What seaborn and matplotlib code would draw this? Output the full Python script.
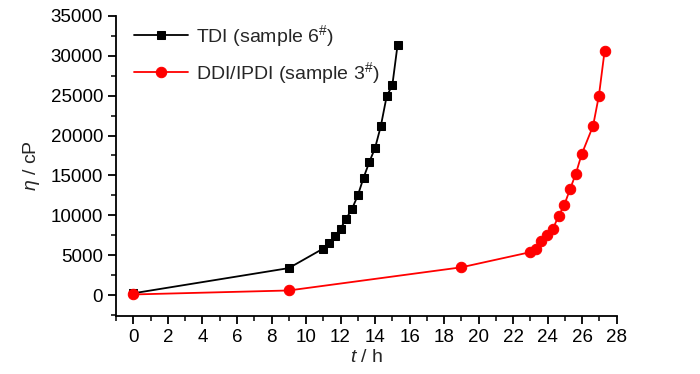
import matplotlib
matplotlib.use('Agg')
import matplotlib.pyplot as plt
from matplotlib.ticker import MultipleLocator
import seaborn as sns

sns.set_style('ticks')
plt.rcParams['font.family'] = ['Liberation Sans', 'DejaVu Sans']
plt.rcParams['mathtext.fontset'] = 'custom'
plt.rcParams['mathtext.rm'] = 'Liberation Sans'
plt.rcParams['mathtext.it'] = 'Liberation Sans:italic'

# TDI (sample 6#)
tdi_t = [0, 9, 11, 11.33, 11.67, 12, 12.33, 12.67, 13, 13.33, 13.67, 14, 14.33, 14.67, 15, 15.3]
tdi_eta = [250, 3400, 5850, 6600, 7400, 8350, 9600, 10850, 12500, 14700, 16700, 18450, 21150, 24900, 26300, 31300]

# DDI/IPDI (sample 3#)
ddi_t = [0, 9, 19, 23, 23.3, 23.63, 23.97, 24.3, 24.63, 24.97, 25.3, 25.63, 25.97, 26.63, 26.97, 27.3]
ddi_eta = [100, 600, 3500, 5400, 5850, 6750, 7550, 8300, 9900, 11350, 13300, 15200, 17650, 21200, 25000, 30600]

fig = plt.figure(figsize=(7, 3.74), dpi=100)
ax = fig.add_axes([0.166, 0.155, 0.715, 0.803])

sns.lineplot(x=tdi_t, y=tdi_eta, ax=ax, color='black', marker='s', markersize=6,
             markeredgecolor='black', linewidth=1.3, label='TDI (sample 6$^{\\#}$)')
sns.lineplot(x=ddi_t, y=ddi_eta, ax=ax, color='red', marker='o', markersize=7.5,
             markeredgecolor='red', linewidth=1.3, label='DDI/IPDI (sample 3$^{\\#}$)')

ax.set_xlim(-1, 28)
ax.set_ylim(-2600, 35000)
ax.xaxis.set_major_locator(MultipleLocator(2))
ax.xaxis.set_minor_locator(MultipleLocator(1))
ax.yaxis.set_major_locator(MultipleLocator(5000))
ax.yaxis.set_minor_locator(MultipleLocator(2500))
ax.tick_params(which='major', length=6, width=1.3, labelsize=13.5, colors='black')
ax.tick_params(which='minor', length=3.5, width=1.3)
for s in ['left', 'bottom']:
    ax.spines[s].set_linewidth(1.3)
    ax.spines[s].set_color('black')
sns.despine(ax=ax)

ax.set_xlabel('$t$ / h', fontsize=14, labelpad=2)
ax.set_ylabel('$\\eta$ / cP', fontsize=14, labelpad=6)

ax.legend(loc='upper left', bbox_to_anchor=(0.0, 1.035), frameon=False, fontsize=14,
          handlelength=2.8, labelspacing=0.6, handletextpad=0.4)

fig.savefig('out.png', dpi=100)
